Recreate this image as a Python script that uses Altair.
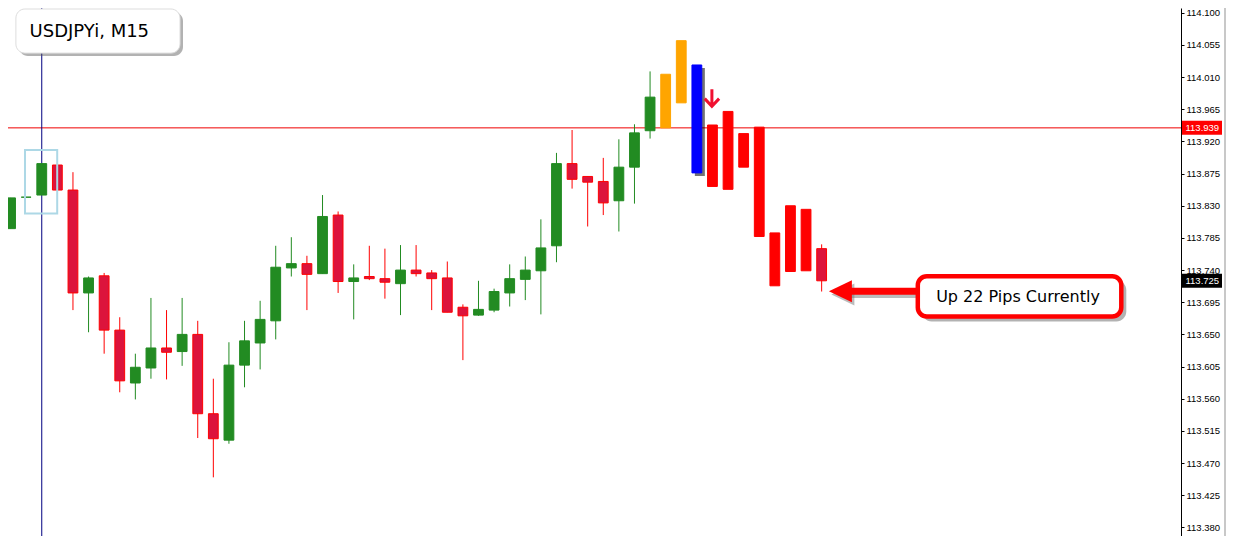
import altair as alt
import pandas as pd

# ---------------- data ----------------
IDX = list(range(53))
OPEN = [113.798, 113.842, 113.845, 113.887, 113.852, 113.708, 113.732, 113.656, 113.582, 113.603,
        113.631, 113.626, 113.650, 113.539, 113.502, 113.607, 113.638, 113.669, 113.743, 113.749,
        113.735, 113.817, 113.724, 113.731, 113.728, 113.721, 113.740, 113.736, 113.729, 113.688,
        113.677, 113.684, 113.708, 113.727, 113.739, 113.774, 113.889, 113.871, 113.864, 113.837,
        113.884, 113.935, 113.939, 113.974, 114.027, 113.943, 113.962, 113.931, 113.940, 113.792,
        113.830, 113.825, 113.770]
HIGH = [113.841, 113.842, 113.889, 113.887, 113.877, 113.731, 113.736, 113.674, 113.623, 113.701,
        113.684, 113.701, 113.669, 113.588, 113.639, 113.669, 113.697, 113.774, 113.786, 113.760,
        113.845, 113.822, 113.748, 113.774, 113.770, 113.775, 113.775, 113.740, 113.752, 113.692,
        113.725, 113.714, 113.748, 113.759, 113.811, 113.904, 113.936, 113.871, 113.897, 113.923,
        113.944, 114.018, 114.014, 114.061, 114.027, 113.943, 113.962, 113.931, 113.940, 113.792,
        113.830, 113.825, 113.776]
LOW = [113.798, 113.842, 113.845, 113.852, 113.684, 113.653, 113.623, 113.569, 113.559, 113.588,
       113.587, 113.606, 113.505, 113.450, 113.497, 113.576, 113.601, 113.643, 113.731, 113.684,
       113.735, 113.708, 113.671, 113.726, 113.700, 113.677, 113.731, 113.684, 113.681, 113.614,
       113.676, 113.681, 113.689, 113.698, 113.678, 113.751, 113.854, 113.801, 113.817, 113.794,
       113.833, 113.924, 113.939, 113.974, 113.876, 113.857, 113.853, 113.884, 113.787, 113.718,
       113.738, 113.739, 113.710]
CLOSE = [113.841, 113.842, 113.889, 113.852, 113.708, 113.729, 113.656, 113.585, 113.604, 113.631,
         113.625, 113.650, 113.539, 113.504, 113.607, 113.641, 113.671, 113.744, 113.749, 113.734,
         113.815, 113.724, 113.729, 113.728, 113.723, 113.740, 113.735, 113.728, 113.681, 113.676,
         113.685, 113.710, 113.728, 113.740, 113.771, 113.889, 113.867, 113.863, 113.834, 113.884,
         113.932, 113.982, 114.014, 114.061, 113.876, 113.857, 113.853, 113.884, 113.787, 113.718,
         113.738, 113.739, 113.725]
KIND = ["up", "up", "up", "down", "down", "up", "down", "down", "up", "up",
        "down", "up", "down", "down", "up", "up", "up", "up", "up", "down",
        "up", "down", "up", "down", "down", "up", "down", "down", "down", "down",
        "up", "up", "up", "up", "up", "up", "down", "down", "down", "up",
        "up", "up", "orange", "orange", "blue", "signal", "signal", "signal", "signal", "signal",
        "signal", "signal", "down"]

Y_TICKS = [114.100, 114.055, 114.010, 113.965, 113.920, 113.875, 113.830, 113.785, 113.740,
           113.695, 113.650, 113.605, 113.560, 113.515, 113.470, 113.425, 113.380]
LEVEL_PRICE = 113.939
LAST_PRICE = CLOSE[-1]
CROSS_IDX = 2
HILITE_IDX = [0.925, 2.99]
HILITE_PRICE = [113.819, 113.908]
TITLE = "USDJPYi, M15"
CALLOUT = "Up 22 Pips Currently"

KINDS = ["up", "down", "orange", "blue", "signal"]
FILLS = ["#228B22", "#DC143C", "#FFA500", "#0000FF", "#FF0000"]
STROKES = ["#228B22", "#FF0000", "#FFA500", "#0000FF", "#FF0000"]

# ---------------- layout ----------------
W, H, RPAD = 1173, 528, 47
xs = alt.Scale(domain=[0.15625, 74.71875], nice=False, zero=False)
ys = alt.Scale(domain=[113.36791, 114.10672], nice=False, zero=False)

df = pd.DataFrame({"i": IDX, "open": OPEN, "high": HIGH, "low": LOW, "close": CLOSE, "kind": KIND})
one = pd.DataFrame({"k": [0]})

y_axis = alt.Axis(orient="right", values=Y_TICKS, format=".3f", grid=False,
                  domainColor="black", domainWidth=1, tickColor="black", tickSize=3,
                  labelColor="black", labelFont="Liberation Sans", labelFontSize=9.5,
                  labelPadding=2, labelAlign="left", labelBaseline="middle",
                  labelOverlap=False, labelFlush=False, labelBound=False)


def X(f):
    return alt.X(f, type="quantitative", scale=xs, axis=None)


def Y(f):
    return alt.Y(f, type="quantitative", scale=ys, axis=y_axis, title=None)


fill_enc = alt.Fill("kind:N", scale=alt.Scale(domain=KINDS, range=FILLS), legend=None)
stroke_enc = alt.Stroke("kind:N", scale=alt.Scale(domain=KINDS, range=STROKES), legend=None)

level = alt.Chart(pd.DataFrame({"p": [LEVEL_PRICE]})).mark_rule(color="#F00000", strokeWidth=1).encode(
    y=Y("p"))

cross = alt.Chart(pd.DataFrame({"c": [CROSS_IDX]})).mark_rule(color="#000080", strokeWidth=1).encode(
    x=X("c"))

wicks = alt.Chart(df).transform_filter(
    alt.FieldOneOfPredicate(field="kind", oneOf=["up", "down"])
).mark_rule(strokeWidth=1, clip=True).encode(
    x=X("i"), y=Y("low"), y2="high", stroke=stroke_enc)

blue_shadow = alt.Chart(df).transform_filter(alt.datum.kind == "blue").mark_bar(
    size=10, color="black", opacity=0.55, xOffset=3, yOffset=3, y2Offset=3, clip=True
).encode(x=X("i"), y=Y("open"), y2="close")

bodies = alt.Chart(df).mark_bar(size=9.8, strokeWidth=1, clip=True).encode(
    x=X("i"), y=Y("open"), y2="close", fill=fill_enc, stroke=stroke_enc)

hilite = alt.Chart(pd.DataFrame({"x1": [HILITE_IDX[0]], "x2": [HILITE_IDX[1]],
                                 "y1": [HILITE_PRICE[0]], "y2": [HILITE_PRICE[1]]})).mark_rect(
    fill="transparent", stroke="#ADD8E6", strokeWidth=2).encode(
    x=X("x1"), x2="x2", y=Y("y1"), y2="y2")

down_arrow = alt.Chart(one).mark_point(
    shape="M0,-1L0,0.85M-0.8,0.05L0,0.9L0.8,0.05", filled=False, size=324,
    color="#F01030", strokeWidth=3, opacity=1).encode(
    x=alt.value(703.9), y=alt.value(90.2))

# title box
title_shadow = alt.Chart(one).mark_rect(cornerRadius=9, color="#555555", opacity=0.45).encode(
    x=alt.value(10.9), x2=alt.value(175.0), y=alt.value(4.0), y2=alt.value(48.1))
title_box = alt.Chart(one).mark_rect(cornerRadius=9, fill="white", stroke="#DDDDDD", strokeWidth=1).encode(
    x=alt.value(7.9), x2=alt.value(172.0), y=alt.value(1.0), y2=alt.value(45.1))
title_text = alt.Chart(one).mark_text(text=TITLE, font="DejaVu Sans", fontSize=18, color="black",
                                      align="left", baseline="middle").encode(
    x=alt.value(21.6), y=alt.value(23.5))

# callout
arrow_shadow = alt.Chart(one).mark_rule(color="#777777", strokeWidth=7, opacity=0.5).encode(
    x=alt.value(843.0), x2=alt.value(910.0), y=alt.value(286.5))
arrow_head_shadow = alt.Chart(one).mark_point(
    shape="M-1,0L1,-0.95L1,0.95Z", filled=True, size=529, color="#777777", opacity=0.5).encode(
    x=alt.value(834.9), y=alt.value(286.5))
arrow_shaft = alt.Chart(one).mark_rule(color="#FF0000", strokeWidth=7).encode(
    x=alt.value(840.5), x2=alt.value(910.3), y=alt.value(283.2))
arrow_head = alt.Chart(one).mark_point(
    shape="M-1,0L1,-0.95L1,0.95Z", filled=True, size=529, color="#FF0000", opacity=1).encode(
    x=alt.value(832.4), y=alt.value(283.2))
call_shadow = alt.Chart(one).mark_rect(cornerRadius=10, color="#555555", opacity=0.45).encode(
    x=alt.value(913.8), x2=alt.value(1118.3), y=alt.value(272.3), y2=alt.value(313.6))
call_box = alt.Chart(one).mark_rect(cornerRadius=9, fill="white", stroke="#FF0000", strokeWidth=4.5).encode(
    x=alt.value(909.8), x2=alt.value(1113.3), y=alt.value(268.3), y2=alt.value(308.6))
call_text = alt.Chart(one).mark_text(text=CALLOUT, font="DejaVu Sans", fontSize=16, color="black",
                                     align="center", baseline="middle").encode(
    x=alt.value(1010.0), y=alt.value(289.0))

# price tags on the axis
tags = pd.DataFrame({"p": [LEVEL_PRICE, LAST_PRICE], "bg": ["level", "last"],
                     "lab": [f"{LEVEL_PRICE:.3f}", f"{LAST_PRICE:.3f}"]})
tag_box = alt.Chart(tags).mark_rect(yOffset=-7, y2Offset=7).encode(
    x=alt.value(1174.0), x2=alt.value(1214.0), y=Y("p"), y2="p",
    color=alt.Color("bg:N", scale=alt.Scale(domain=["level", "last"], range=["#FF0000", "#000000"]),
                    legend=None))
tag_text = alt.Chart(tags).mark_text(font="Liberation Sans", fontSize=9.5, color="white",
                                     align="left", baseline="middle").encode(
    x=alt.value(1177.5), y=Y("p"), text="lab:N")

edge = alt.Chart(one).mark_rule(color="#C8C8C8", strokeWidth=2).encode(
    x=alt.value(1217.0), y=alt.value(0), y2=alt.value(H))

chart = alt.layer(
    level, cross, wicks, blue_shadow, bodies, hilite, down_arrow,
    title_shadow, title_box, title_text,
    arrow_shadow, arrow_head_shadow, arrow_shaft, arrow_head, call_shadow, call_box, call_text,
    tag_box, tag_text, edge
).properties(
    width=W, height=H,
    autosize=alt.AutoSizeParams(type="none"),
    padding={"left": 0, "top": 0, "right": RPAD, "bottom": 0},
    background="white",
).configure_view(stroke="transparent")

chart.save("out.html", embed_options={"renderer": "svg", "actions": False})
